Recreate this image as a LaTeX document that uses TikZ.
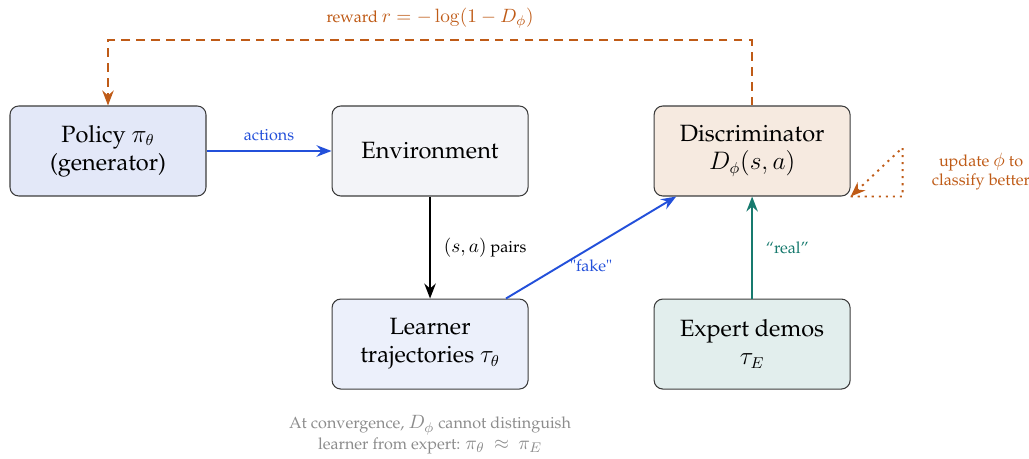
\documentclass[tikz,border=0pt]{standalone}
\usepackage[T1]{fontenc}
\usepackage{palatino}
\usepackage{amsmath,amssymb}
\usepackage{xcolor}
\usepackage{tikz}
\usetikzlibrary{arrows.meta, positioning}
\DeclareMathSizes{9.2}{10.6}{7.6}{5.6}
\definecolor{BoxLine}{HTML}{3C3C3C}
\definecolor{PolicyFill}{HTML}{E3E8F8}
\definecolor{EnvFill}{HTML}{F3F4F8}
\definecolor{DiscFill}{HTML}{F6EAE0}
\definecolor{LearnFill}{HTML}{ECF0FB}
\definecolor{ExpertFill}{HTML}{E2EEED}
\definecolor{RewardOrange}{HTML}{BF5B17}
\definecolor{ActBlue}{HTML}{2350DA}
\definecolor{RealTeal}{HTML}{177A6E}
\definecolor{CapGrey}{HTML}{8C8C8C}

\begin{document}
\begin{tikzpicture}[node distance=2.04cm and 2.5cm, align=center,
    box/.style={draw=BoxLine, line width=0.6pt, rounded corners=5pt, minimum width=3.92cm, minimum height=1.8cm, font=\fontsize{13.4}{16}\selectfont},
    lbl/.style={font=\fontsize{9.2}{10.8}\selectfont},
    flow/.style={-{Stealth[length=3mm, width=2.3mm, inset=1mm]}, line width=1.1pt}]
      \useasboundingbox (0,0) rectangle (20.58,9.18);

      \node (policy) [box, fill=PolicyFill] at (2.16,6.16) {Policy $\pi_\theta$\\(generator)};
      \node (env) [box, fill=EnvFill, right=of policy] {Environment};
      \node (disc) [box, fill=DiscFill, right=of env] {Discriminator\\$D_\phi(s,a)$};
      \node (learner) [box, fill=LearnFill, below=of env] {Learner\\trajectories $\tau_\theta$};
      \node (expert) [box, fill=ExpertFill, below=of disc] {Expert demos\\$\tau_E$};

      \draw[flow, ActBlue] (policy) -- (env) node[midway, above=2pt, lbl] {actions};
      \draw[flow, black] (env) -- (learner) node[midway, right=4pt, lbl] {$(s,a)$ pairs};
      \draw[flow, ActBlue] (learner) -- (disc) node[midway, below=3pt, lbl] {"fake"};
      \draw[flow, RealTeal] (expert) -- (disc) node[midway, right=4pt, lbl] {``real''};

      % reward goes back to the generator
      \draw[flow, RewardOrange, dash pattern=on 5pt off 3.5pt] (disc.north) -- ++(0,1.3) -| (policy.north)
        node[pos=0.25, above=3pt, lbl] {reward $r = -\log(1 - D_\phi)$};

      % discriminator update loop
      \draw[flow, RewardOrange, dash pattern=on 1.2pt off 2.8pt] (disc.south east) -- ++(1.04,0)
        -- node (upd) [right=0.45cm, lbl] {update $\phi$ to\\classify better} ++(0,0.98) -- (disc.south east);

      \node (note) [lbl, font=\fontsize{9.2}{11.8}\selectfont, text=CapGrey, below=0.4cm of learner] {At convergence, $D_\phi$ cannot distinguish\\learner from expert: $\pi_\theta\ \approx\ \pi_E$};
    \end{tikzpicture}
\end{document}
